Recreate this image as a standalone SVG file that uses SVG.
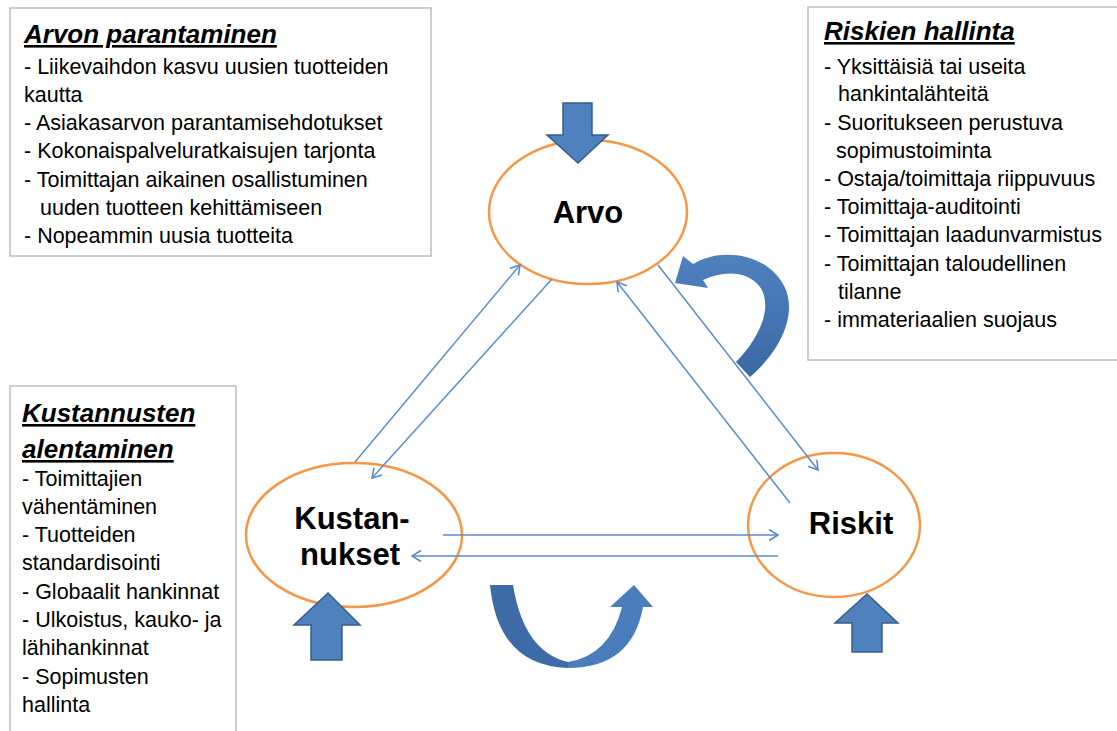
<svg xmlns="http://www.w3.org/2000/svg" width="1117" height="731" viewBox="0 0 1117 731">
  <style>
    .box { fill: #ffffff; stroke: #bfbfbf; stroke-width: 1.5; }
    .txt { font-family: "Liberation Sans", Arial, sans-serif; font-size: 21.5px; fill: #000000; }
    .ttl { font-family: "Liberation Sans", Arial, sans-serif; font-size: 26px; font-weight: bold; font-style: italic; text-decoration: underline; fill: #000000; }
    .node { fill: #ffffff; stroke: #f79646; stroke-width: 2.5; }
    .lbl { font-family: "Liberation Sans", Arial, sans-serif; font-size: 31px; font-weight: bold; fill: #000000; text-anchor: middle; }
    .link { stroke: #5b8dcb; stroke-width: 1.5; fill: none; marker-end: url(#chev); }
    .block { fill: #4f81bd; stroke: #385d8a; stroke-width: 1.5; stroke-linejoin: miter; }
  </style>
  <defs>
    <marker id="chev" markerWidth="14" markerHeight="14" refX="10" refY="6" orient="auto" markerUnits="userSpaceOnUse">
      <path d="M1,0.5 L10,6 L1,11.5" fill="none" stroke="#5b8dcb" stroke-width="1.6"/>
    </marker>
    <linearGradient id="curlShade" x1="0" y1="0" x2="0" y2="1">
      <stop offset="0" stop-color="#4f81bd"/>
      <stop offset="0.45" stop-color="#4677b5"/>
      <stop offset="1" stop-color="#3b68a2"/>
    </linearGradient>
  </defs>

  <rect width="1117" height="731" fill="#ffffff"/>

  <!-- text panels -->
  <g id="panel-arvon-parantaminen">
    <rect class="box" x="10" y="8" width="421" height="248"/>
    <text class="ttl" x="24" y="43">Arvon parantaminen</text>
    <text class="txt" x="24" y="74">- Liikevaihdon kasvu uusien tuotteiden</text>
    <text class="txt" x="24" y="102">kautta</text>
    <text class="txt" x="24" y="130">- Asiakasarvon parantamisehdotukset</text>
    <text class="txt" x="24" y="158">- Kokonaispalveluratkaisujen tarjonta</text>
    <text class="txt" x="24" y="187">- Toimittajan aikainen osallistuminen</text>
    <text class="txt" x="40" y="215">uuden tuotteen kehittämiseen</text>
    <text class="txt" x="24" y="243">- Nopeammin uusia tuotteita</text>
  </g>

  <g id="panel-riskien-hallinta">
    <rect class="box" x="808" y="7" width="330" height="353"/>
    <text class="ttl" x="824" y="40">Riskien hallinta</text>
    <text class="txt" x="824" y="74">- Yksittäisiä tai useita</text>
    <text class="txt" x="838" y="101">hankintalähteitä</text>
    <text class="txt" x="824" y="130">- Suoritukseen perustuva</text>
    <text class="txt" x="836" y="158">sopimustoiminta</text>
    <text class="txt" x="824" y="186">- Ostaja/toimittaja riippuvuus</text>
    <text class="txt" x="824" y="214">- Toimittaja-auditointi</text>
    <text class="txt" x="824" y="242">- Toimittajan laadunvarmistus</text>
    <text class="txt" x="824" y="271">- Toimittajan taloudellinen</text>
    <text class="txt" x="838" y="299">tilanne</text>
    <text class="txt" x="824" y="327">- immateriaalien suojaus</text>
  </g>

  <g id="panel-kustannusten-alentaminen">
    <rect class="box" x="10" y="386" width="226" height="360"/>
    <text class="ttl" x="22" y="422">Kustannusten</text>
    <text class="ttl" x="22" y="458">alentaminen</text>
    <text class="txt" x="22" y="486">- Toimittajien</text>
    <text class="txt" x="22" y="514">vähentäminen</text>
    <text class="txt" x="22" y="542">- Tuotteiden</text>
    <text class="txt" x="22" y="570">standardisointi</text>
    <text class="txt" x="22" y="599">- Globaalit hankinnat</text>
    <text class="txt" x="22" y="627">- Ulkoistus, kauko- ja</text>
    <text class="txt" x="22" y="655">lähihankinnat</text>
    <text class="txt" x="22" y="684">- Sopimusten</text>
    <text class="txt" x="22" y="712">hallinta</text>
  </g>

  <!-- nodes -->
  <g id="node-arvo">
    <ellipse class="node" cx="588" cy="212" rx="99" ry="72"/>
    <text class="lbl" x="588" y="223">Arvo</text>
  </g>
  <g id="node-kustannukset">
    <ellipse class="node" cx="354" cy="535" rx="108" ry="72"/>
    <text class="lbl" x="352" y="529">Kustan-</text>
    <text class="lbl" x="350" y="565">nukset</text>
  </g>
  <g id="node-riskit">
    <ellipse class="node" cx="834" cy="525" rx="86" ry="72"/>
    <text class="lbl" x="851" y="534">Riskit</text>
  </g>

  <!-- connectors between the three nodes -->
  <g id="connectors">
    <line class="link" x1="355" y1="462" x2="520" y2="265"/>
    <line class="link" x1="552" y1="279" x2="372" y2="478"/>
    <line class="link" x1="790" y1="503" x2="617" y2="282"/>
    <line class="link" x1="658" y1="265" x2="818" y2="470"/>
    <line class="link" x1="443" y1="535" x2="778" y2="535"/>
    <line class="link" x1="778" y1="556" x2="412" y2="556"/>
  </g>

  <!-- block arrows pushing into the nodes -->
  <g id="push-arvo">
    <path class="block" d="M563,103 L592,103 L592,135 L608,135 L578,163 L547,135 L563,135 Z"/>
  </g>
  <g id="push-kustannukset">
    <path class="block" d="M311,660 L342,660 L342,625 L360,625 L328,593 L294,625 L311,625 Z"/>
  </g>
  <g id="push-riskit">
    <path class="block" d="M852,652 L882,652 L882,623 L898,623 L867,594 L835,623 L852,623 Z"/>
  </g>

  <!-- curved arrows -->
  <g id="curl-bottom">
    <path d="M490,585 L513,585 Q524,652 568,662 L568,668 Q498,666 490,585 Z" fill="#3d6ba6"/>
    <path d="M568,662 Q610,655 622,607 L610,607 L634,585 L653,607 L643,607 Q632,668 568,668 Z" fill="#4a7dbb"/>
  </g>
  <g id="curl-right">
    <path d="M675,283 L683,256 L693,264 C720,247 770,252 786,290 C797,320 776,355 750,377 L736,362 C758,340 774,308 760,287 C748,271 724,270 703,280 L708,288 Z" fill="url(#curlShade)"/>
  </g>
</svg>
